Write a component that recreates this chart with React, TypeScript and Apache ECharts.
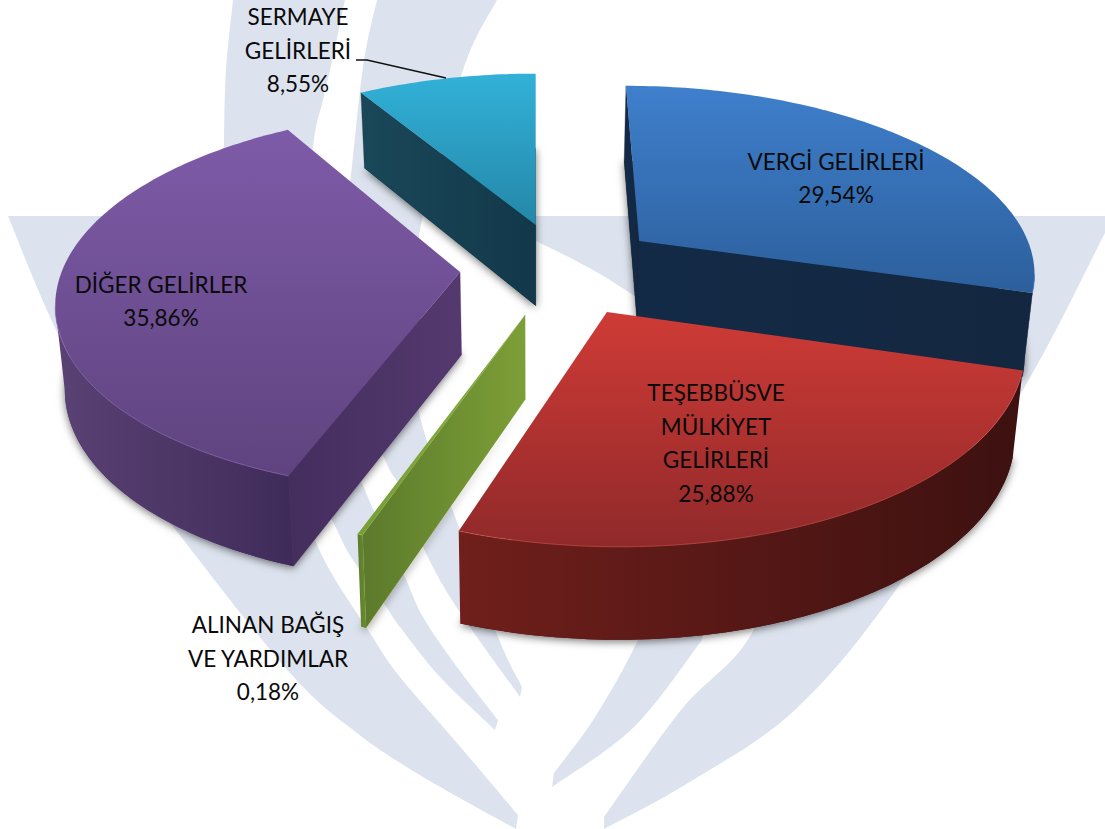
import React, { useEffect, useRef } from "react";
import * as echarts from "echarts";

// ---- data
const categories = [
  "VERGİ GELİRLERİ",
  "TEŞEBBÜSVE\nMÜLKİYET\nGELİRLERİ",
  "ALINAN BAĞIŞ\nVE YARDIMLAR",
  "DİĞER GELİRLER",
  "SERMAYE\nGELİRLERİ",
];
const shares = [29.54, 25.88, 0.18, 35.86, 8.55];

// ---- styling, per slice
const topColors = [
  ["#3f7fcc", "#2c5f9c"],
  ["#cf3b36", "#90292a"],
  ["#84ad3c", "#789f36"],
  ["#7e5ba8", "#5f437f"],
  ["#32b1d8", "#2487a8"],
];
const arcWallColors = [
  ["#16304f", "#142740"],
  ["#701f1b", "#3c1110"],
  ["#5c7a2b", "#6a8c30"],
  ["#5a4274", "#3f2b59"],
  ["#1b4f60", "#123746"],
];
const flatWallColors = [
  ["#132a46", "#142740"],
  ["#701f1b", "#3c1110"],
  ["#5c7a2b", "#7d9f37"],
  ["#442e5e", "#54396e"],
  ["#1a4858", "#12384a"],
];
const edgeColors = ["#4a86cf", "#c9504a", "#93b84a", "#8b6bb0", "#3dbbdd"];
const explodeU = [0.268, 0.175, -0.024, -0.188, 0.002];
const explodeV = [-0.229, 0.149, 0.164, -0.058, -0.32];
const paintOrder = [1, 4, 3, 0, 2]; // by slice: teal, blue, purple, green, red
const labelX = [836, 716, 268, 161, 298];
const labelY = [178, 443, 658, 301, 50];

// ---- projection
const CX = 535;
const CY = 283;
const RX = 402;
const RY = 190;
const PERSP = 0.15;
const DEPTH = 83;
const BOTTOM_SHRINK = 0.98;

// ---- pale watermark behind the chart
const watermarkFins: number[][][][] = [
  // big left fin
  [
    [[8, 216], [50, 317], [110, 440], [182, 538], [290, 673], [357, 733], [423, 777], [516, 829]],
    [[518, 815], [457, 743], [400, 677], [370, 633], [318, 547], [290, 450], [250, 216]],
    [[250, 216], [8, 216]],
  ],
  // band turning into the middle fin
  [
    [[233, 0], [226, 70], [224, 140], [224, 200], [240, 300], [300, 450], [337, 530], [353, 560], [385, 605], [400, 627], [440, 677], [495, 730]],
    [[498, 720], [457, 667], [423, 617], [405, 577], [377, 517], [365, 490], [330, 400], [300, 280], [313, 147], [323, 100], [333, 57], [345, 0]],
  ],
  // band turning into the third fin
  [
    [[377, 0], [363, 67], [348, 200], [335, 270], [340, 350], [385, 460], [402, 490], [423, 547], [457, 608], [520, 697]],
    [[522, 687], [498, 637], [460, 530], [420, 417], [412, 330], [420, 230], [463, 70], [497, 0]],
  ],
  // right wing
  [
    [[520, 216], [1105, 216]],
    [[1105, 216], [1105, 233]],
    [[1105, 233], [1023, 390], [898, 587], [795, 710], [688, 783], [604, 829]],
    [[604, 817], [681, 710], [752, 633], [800, 500], [770, 400], [630, 293], [540, 243], [520, 238]],
  ],
  // small right fin
  [
    [[702, 640], [634, 727], [552, 787]],
    [[554, 773], [595, 717], [638, 640], [680, 540], [720, 540]],
  ],
];

function smoothEdge(pts: number[][], first: boolean) {
  let d = (first ? "M" : "L") + pts[0][0] + " " + pts[0][1];
  for (let i = 0; i < pts.length - 1; i++) {
    const p0 = pts[Math.max(i - 1, 0)];
    const p1 = pts[i];
    const p2 = pts[i + 1];
    const p3 = pts[Math.min(i + 2, pts.length - 1)];
    d += ` C${p1[0] + (p2[0] - p0[0]) / 6} ${p1[1] + (p2[1] - p0[1]) / 6} ${p2[0] - (p3[0] - p1[0]) / 6} ${p2[1] - (p3[1] - p1[1]) / 6} ${p2[0]} ${p2[1]}`;
  }
  return d;
}
const watermarkPath = watermarkFins
  .map((fin) => fin.map((edge, i) => smoothEdge(edge, i === 0)).join(" ") + " Z")
  .join(" ");
echarts.graphic.registerShape("watermark", echarts.graphic.extendPath(watermarkPath, {}) as any);

function project(u: number, v: number) {
  const w = 1 - PERSP * v;
  return { x: CX + (RX * u) / w, y: CY + (RY * v) / w, w };
}
function topPoint(u: number, v: number) {
  const p = project(u, v);
  return [p.x, p.y];
}
function bottomPoint(u: number, v: number) {
  const p = project(u, v);
  return [CX + (p.x - CX) * BOTTOM_SHRINK, p.y + DEPTH / Math.pow(p.w, 0.6)];
}

const total = shares.reduce((a, b) => a + b, 0);

function horizontal(colors: string[]) {
  return new echarts.graphic.LinearGradient(0, 0, 1, 0, [
    { offset: 0, color: colors[0] },
    { offset: 1, color: colors[1] },
  ]);
}

function renderSlice(params: any, api: any) {
  const i = params.dataIndex;
  const value = api.value(0);
  let before = 0;
  for (let k = 0; k < i; k++) before += shares[k];
  const a0 = (before / total) * Math.PI * 2;
  const a1 = ((before + value) / total) * Math.PI * 2;
  const eu = explodeU[i];
  const ev = explodeV[i];
  const steps = Math.max(2, Math.ceil(((a1 - a0) * 180) / Math.PI));
  const tops: number[][] = [];
  const bots: number[][] = [];
  for (let s = 0; s <= steps; s++) {
    const a = a0 + ((a1 - a0) * s) / steps;
    const u = eu + Math.sin(a);
    const v = ev - Math.cos(a);
    tops.push(topPoint(u, v));
    bots.push(bottomPoint(u, v));
  }
  const apexT = topPoint(eu, ev);
  const apexB = bottomPoint(eu, ev);
  const base = (paintOrder[i] + 1) * 10;
  const silent = true;
  const children: any[] = [];
  // shadow carrier
  children.push({
    type: "polygon",
    z2: base,
    silent,
    shape: { points: [apexB, ...bots] },
    style: {
      fill: flatWallColors[i][1],
      shadowBlur: 8,
      shadowColor: "rgba(0,0,0,0.55)",
      shadowOffsetX: 0,
      shadowOffsetY: 2,
    },
  });
  // straight walls
  const n = tops.length - 1;
  if (tops[0][0] < apexT[0]) {
    children.push({
      type: "polygon", z2: base + 1, silent,
      shape: { points: [apexT, tops[0], bots[0], apexB] },
      style: { fill: horizontal(flatWallColors[i]), stroke: flatWallColors[i][1], lineWidth: 0.3 },
    });
  }
  if (apexT[0] < tops[n][0]) {
    children.push({
      type: "polygon", z2: base + 1, silent,
      shape: { points: [tops[n], apexT, apexB, bots[n]] },
      style: { fill: horizontal(flatWallColors[i]), stroke: flatWallColors[i][1], lineWidth: 0.3 },
    });
  }
  // curved wall, only the part that faces the viewer
  let first = -1;
  let last = -1;
  for (let s = 0; s < n; s++) {
    if (tops[s + 1][0] < tops[s][0]) {
      if (first < 0) first = s;
      last = s + 1;
    }
  }
  if (first >= 0) {
    const t = tops.slice(first, last + 1);
    const b = bots.slice(first, last + 1).reverse();
    children.push({
      type: "polygon", z2: base + 2, silent,
      shape: { points: [...t, ...b] },
      style: { fill: horizontal(arcWallColors[i]) },
    });
    children.push({
      type: "polyline", z2: base + 4, silent,
      shape: { points: t },
      style: { fill: "none", stroke: edgeColors[i], lineWidth: 1, opacity: 0.7 },
    });
  }
  // top face
  children.push({
    type: "polygon", z2: base + 3, silent,
    shape: { points: [apexT, ...tops] },
    style: {
      fill: new echarts.graphic.LinearGradient(0, 0, 0, 1, [
        { offset: 0, color: topColors[i][0] },
        { offset: 1, color: topColors[i][1] },
      ]),
    },
  });
  // label
  const pct = value.toFixed(2).replace(".", ",") + "%";
  children.push({
    type: "text",
    z2: 1000,
    silent,
    style: {
      text: categories[i] + "\n" + pct,
      x: labelX[i],
      y: labelY[i],
      align: "center",
      verticalAlign: "middle",
      fontFamily: "Lato, 'Noto Sans', sans-serif",
      fontSize: 22.5,
      lineHeight: 33.5,
      fill: "#0a0a0a",
    },
  });
  return { type: "group", children };
}

export default function App() {
  const ref = useRef<HTMLDivElement>(null);
  useEffect(() => {
    const chart = echarts.init(ref.current!, undefined, { renderer: "svg" });
    chart.setOption({
      animation: false,
      backgroundColor: "#ffffff",
      graphic: {
        elements: [
          {
            type: "watermark",
            x: 0,
            y: 0,
            z: -10,
            silent: true,
            style: { fill: "#dde3ee" },
          },
          {
            type: "polyline",
            z: 100,
            silent: true,
            shape: { points: [[356, 60], [367, 60], [446, 78]] },
            style: { fill: "none", stroke: "#111111", lineWidth: 1.5 },
          },
        ],
      },
      series: [
        {
          type: "custom",
          coordinateSystem: "none",
          renderItem: renderSlice,
          data: shares.map((v, i) => ({ name: categories[i], value: [v] })),
          clip: false,
          z: 5,
        },
      ],
    });
    return () => chart.dispose();
  }, []);
  return (
    <div
      ref={ref}
      style={{ position: "absolute", left: 0, top: 0, width: 1105, height: 829 }}
    />
  );
}
